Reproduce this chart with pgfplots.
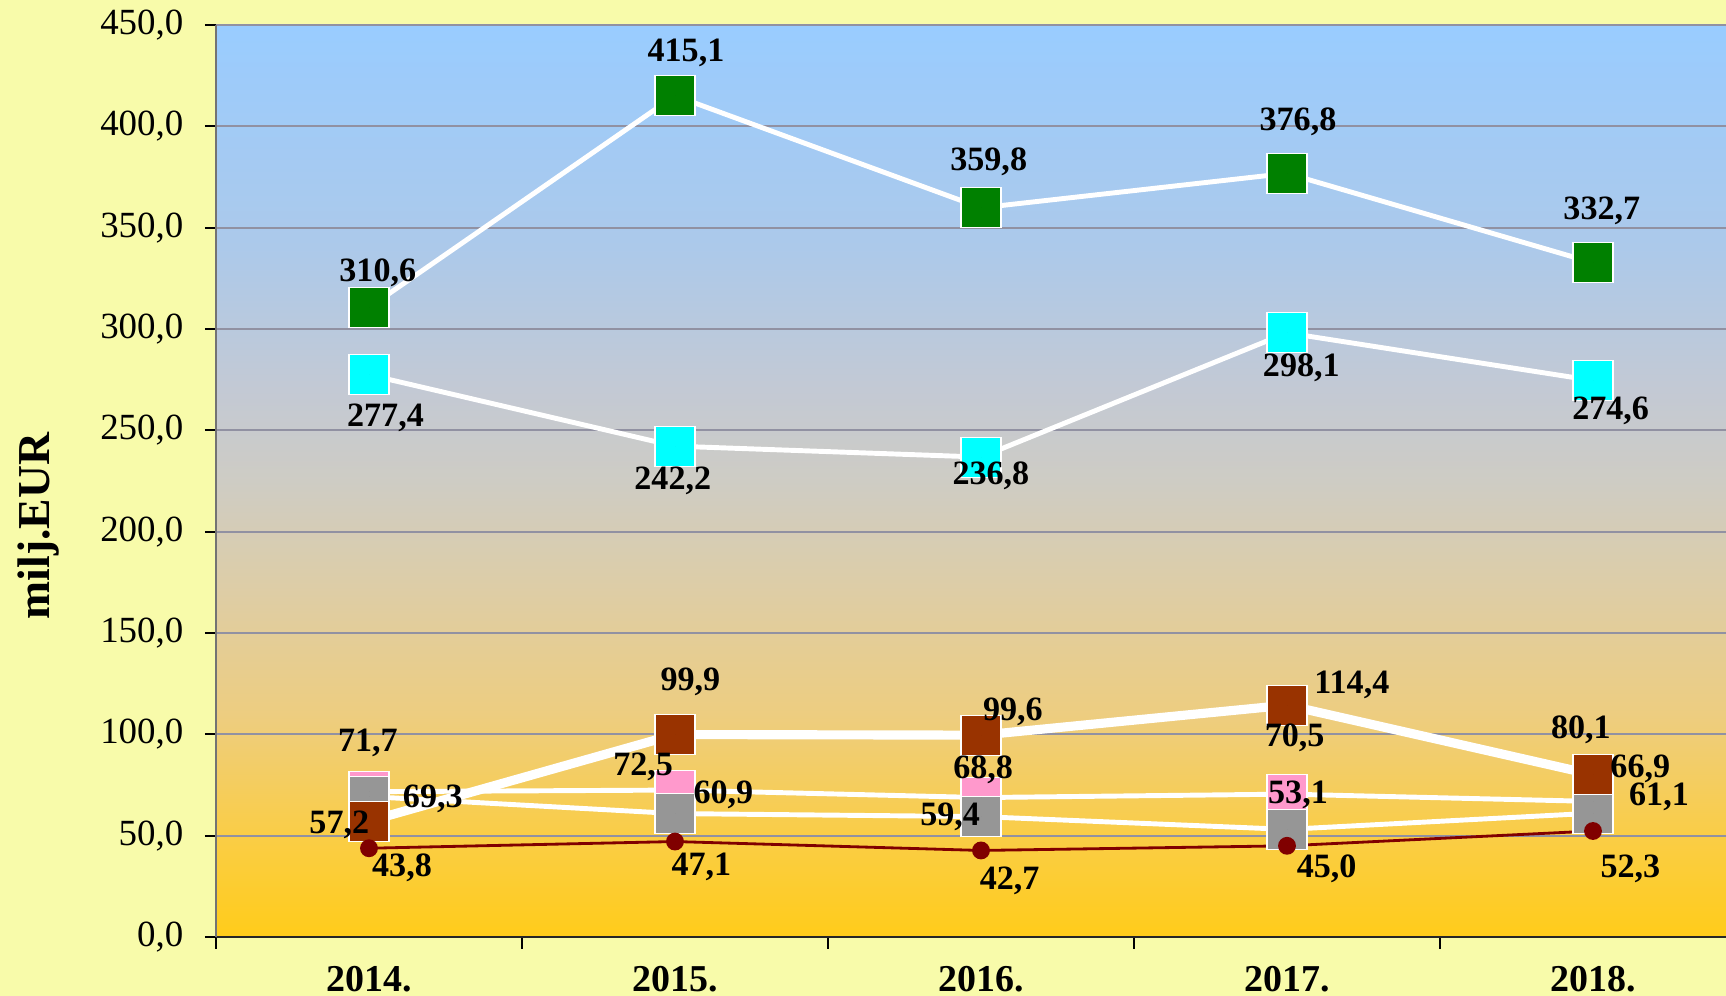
\documentclass[border=0pt]{standalone}
\usepackage{fontspec}
\setmainfont{Liberation Serif}
\usepackage{pgfplots}
\usepackage{pgfplotstable}
\pgfplotsset{compat=1.18}
\definecolor{bgy}{RGB}{248,251,170}
\definecolor{cgreen}{RGB}{0,128,0}
\definecolor{ccyan}{RGB}{0,255,255}
\definecolor{cbrown}{RGB}{153,51,0}
\definecolor{cpink}{RGB}{255,153,204}
\definecolor{cgray}{RGB}{150,150,150}
\definecolor{cdred}{RGB}{128,0,0}
\definecolor{cgrid}{RGB}{145,145,162}
\definecolor{g0}{RGB}{255,204,26}
\definecolor{g50}{RGB}{250,205,70}
\definecolor{g110}{RGB}{237,205,128}
\definecolor{g170}{RGB}{222,205,165}
\definecolor{g225}{RGB}{206,204,196}
\definecolor{g270}{RGB}{195,201,212}
\definecolor{g340}{RGB}{172,201,234}
\definecolor{g450}{RGB}{153,204,255}
\pgfdeclareverticalshading{plotbg}{100bp}{color(0bp)=(g0); color(25bp)=(g0); color(30.56bp)=(g50); color(37.22bp)=(g110); color(43.89bp)=(g170); color(50bp)=(g225); color(55bp)=(g270); color(62.78bp)=(g340); color(75bp)=(g450); color(100bp)=(g450)}

\pgfplotstableread{
x y dx dy lab
0 310.6 8 -32 310,6
1 415.1 10 -39 415,1
2 359.8 7 -42 359,8
3 376.8 10 -47 376,8
4 332.7 8 -47 332,7
}\tgreen
\pgfplotstableread{
x y dx dy lab
0 277.4 15 39 277,4
1 242.2 -2 32 242,2
2 236.8 9 17 236,8
3 298.1 13 32 298,1
4 274.6 16 28 274,6
}\tcyan
\pgfplotstableread{
x y dx dy lab
0 71.7 -1 -44 71,7
1 72.5 -29 -21 72,5
2 68.8 2 -25 68,8
3 70.5 7 -51 70,5
4 66.9 43 -30 66,9
}\tpink
\pgfplotstableread{
x y dx dy lab
0 69.3 58 2 69,3
1 60.9 44 -17 60,9
2 59.4 -28 0 59,4
3 53.1 10 -31 53,1
4 61.1 60 -15 61,1
}\tgray
\pgfplotstableread{
x y dx dy lab
0 57.2 -27 3 57,2
1 99.9 14 -48 99,9
2 99.6 29 -21 99,6
3 114.4 59 -18 114,4
4 80.1 -11 -41 80,1
}\tbrown
\pgfplotstableread{
x y dx dy lab
0 43.8 30 18 43,8
1 47.1 24 23 47,1
2 42.7 26 28 42,7
3 45.0 36 21 45,0
4 52.3 34 34 52,3
}\tdred

\pgfplotsset{
  lbl/.style={only marks, mark=*, mark size=0pt, mark options={draw=none, fill=none},
    nodes near coords, point meta=explicit symbolic,
    visualization depends on={\thisrow{dx} \as \ldx},
    visualization depends on={\thisrow{dy} \as \ldy},
    every node near coord/.append style={anchor=center, inner sep=0pt,
      font=\fontsize{9.7}{11}\selectfont\bfseries, text=black,
      xshift={\ldx*0.11mm}, yshift={-\ldy*0.11mm}}},
  sq/.style={mark=square*, mark size=2mm, mark options={fill=#1, draw=white, line width=0.3pt, solid}},
}

\begin{document}
\begin{tikzpicture}
\path[use as bounding box] (-2.16cm,-0.59cm) rectangle (15.10cm,9.37cm);
\clip (-2.16cm,-0.59cm) rectangle (15.10cm,9.37cm);
\fill[bgy] (-2.16cm,-0.59cm) rectangle (15.10cm,9.37cm);
\begin{axis}[
  at={(0,0)}, anchor=south west,
  scale only axis, width=15.3cm, height=9.12cm,
  xmin=-0.5, xmax=4.5, ymin=0, ymax=450,
  axis background/.style={shade, shading=plotbg},
  axis x line*=bottom, axis y line*=left,
  x axis line style={draw=black!85, line width=0.6pt},
  y axis line style={draw=black!55, line width=0.6pt},
  xtick={0,1,2,3,4},
  xticklabels={2014.,2015.,2016.,2017.,2018.},
  minor xtick={-0.5,0.5,1.5,2.5,3.5},
  x tick style={draw=none},
  minor x tick style={draw=black, line width=0.5pt},
  minor tick length=1.2mm,
  ytick={0,50,...,450},
  y tick style={draw=black, line width=0.5pt},
  major tick length=1.1mm,
  tick align=outside,
  ymajorgrids,
  major grid style={cgrid, line width=0.55pt},
  yticklabel style={font=\fontsize{10.5}{12}\selectfont, anchor=east, inner sep=0pt, xshift=-2.1mm,
    /pgf/number format/fixed, /pgf/number format/fixed zerofill, /pgf/number format/precision=1,
    /pgf/number format/use comma, /pgf/number format/1000 sep={}, /pgf/number format/assume math mode=true},
  xticklabel style={font=\fontsize{10.8}{12}\selectfont\bfseries, anchor=north, inner sep=0pt, yshift=-1.8mm},
  ylabel={milj.EUR},
  ylabel style={at={(axis description cs:-0.116,0.4507)}, anchor=center, font=\fontsize{13}{15}\selectfont\bfseries},
  clip=false,
]
\addplot[white, line width=1.4pt, sq=cgreen] table[x=x,y=y] {\tgreen};
\addplot[white, line width=1.4pt, sq=ccyan] table[x=x,y=y] {\tcyan};
\addplot[white, line width=1.4pt, sq=cpink] table[x=x,y=y] {\tpink};
\addplot[white, line width=1.4pt, sq=cgray] table[x=x,y=y] {\tgray};
\addplot[white, line width=2.6pt, sq=cbrown] table[x=x,y=y] {\tbrown};
\addplot[cdred, line width=0.8pt, mark=*, mark size=0.75mm, mark options={fill=cdred, draw=cdred}] table[x=x,y=y] {\tdred};
\addplot[lbl] table[x=x,y=y,meta=lab] {\tgreen};
\addplot[lbl] table[x=x,y=y,meta=lab] {\tcyan};
\addplot[lbl] table[x=x,y=y,meta=lab] {\tpink};
\addplot[lbl] table[x=x,y=y,meta=lab] {\tgray};
\addplot[lbl] table[x=x,y=y,meta=lab] {\tbrown};
\addplot[lbl] table[x=x,y=y,meta=lab] {\tdred};
\end{axis}
\end{tikzpicture}
\end{document}
